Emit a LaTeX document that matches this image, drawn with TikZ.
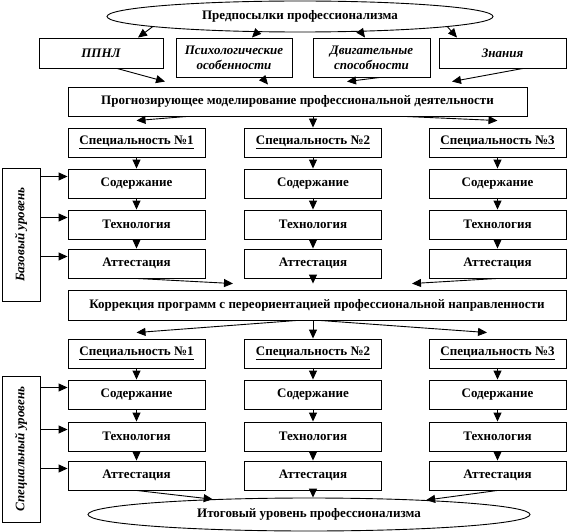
\documentclass[tikz,border=0pt]{standalone}
\usepackage{fontspec}
\setmainfont{Liberation Serif}
\usetikzlibrary{arrows.meta,shapes.geometric}
\begin{document}
\begin{tikzpicture}[x=1pt,y=-1pt,
  txt/.style={font=\bfseries\fontsize{13}{15}\selectfont},
  box/.style={draw,line width=0.9pt,rectangle,inner sep=0pt,align=center,txt},
  ibox/.style={box,font=\bfseries\itshape\fontsize{13}{15}\selectfont},
  col/.style={box,minimum width=137pt,minimum height=29pt},
  oval/.style={draw,line width=0.9pt,ellipse,inner sep=0pt,txt},
  side/.style={draw,line width=0.9pt,rectangle,inner sep=0pt,minimum width=38pt},
  sidetxt/.style={rotate=90,font=\bfseries\itshape\fontsize{13}{15}\selectfont},
  arr/.style={line width=0.9pt,-{Triangle[length=9pt,width=8pt]}}]
\useasboundingbox (0,0) rectangle (570,532);
\fill[white] (0,0) rectangle (570,532);

% top
\node[oval,minimum width=386pt,minimum height=31pt] (E0) at (300,16.5) {Предпосылки профессионализма};
\node[ibox,minimum width=124pt,minimum height=30pt] (b1) at (101,53) {ППНЛ};
\node[ibox,minimum width=116pt,minimum height=39pt] (b2) at (234,57.5) {Психологические\\особенности};
\node[ibox,minimum width=117pt,minimum height=39pt] (b3) at (371.5,57.5) {Двигательные\\способности};
\node[ibox,minimum width=127pt,minimum height=30pt] (b4) at (502.5,53) {Знания};
\node[box,minimum width=459pt,minimum height=29pt] (M) at (297.5,101.5) {Прогнозирующее моделирование профессиональной деятельности};

\draw[arr] (E0.184) -- ([xshift=37pt]b1.north);
\draw[arr] (E0.200) -- ([xshift=18pt]b2.north);
\draw[arr] (E0.346) -- ([xshift=-6.5pt]b3.north);
\draw[arr] (E0.356) -- ([xshift=-45.5pt]b4.north);

\draw[arr] ([xshift=16pt]b1.south) -- ([xshift=-132.5pt,yshift=5pt]M.north);
\draw[arr] ([xshift=28pt]b2.south) -- ([xshift=-29.5pt,yshift=2pt]M.north);
\draw[arr] ([xshift=8.5pt]b3.south) -- ([xshift=49.5pt,yshift=5pt]M.north);
\draw[arr] ([xshift=20.5pt]b4.south) -- ([xshift=154.5pt,yshift=5pt]M.north);

% upper columns
\foreach \c/\x in {1/136.5,2/313,3/497.5}{
  \node[col] (s\c) at (\x,142.5) {\underline{Специальность №\c}};
  \node[col] (c\c) at (\x,183.5) {Содержание};
  \node[col] (t\c) at (\x,224.5) {Технология};
  \node[col] (a\c) at (\x,263.5) {Аттестация};
  \draw[arr] (s\c.south) -- (c\c.north);
  \draw[arr] (c\c.south) -- (t\c.north);
  \draw[arr] (t\c.south) -- (a\c.north);
}
\draw[arr] ([xshift=-110.5pt]M.south) -- ([yshift=7pt]s1.north);
\draw[arr] (s2.north |- M.south) -- (s2.north);
\draw[arr] ([xshift=107.5pt]M.south) -- ([yshift=7pt]s3.north);

\node[side,minimum height=133pt] (L1) at (21,234.5) {};
\node[sidetxt] at (L1.center) {Базовый уровень};
\foreach \b in {c1,t1,a1}{
  \coordinate (p\b) at ([yshift=7pt]\b.west);
  \draw[arr] (p\b -| L1.east) -- (p\b);
}

% correction
\node[box,minimum width=498pt,minimum height=30pt] (K) at (317,305) {Коррекция программ с переориентацией профессиональной направленности};
\draw[arr] (a1.south) -- ([xshift=-84pt,yshift=6pt]K.north);
\draw[arr] (a2.south) -- ([yshift=6pt]a2.south |- K.north);
\draw[arr] (a3.south) -- ([xshift=95pt,yshift=6pt]K.north);

% lower columns
\foreach \c/\x in {1/136.5,2/313,3/497.5}{
  \node[col] (S\c) at (\x,353.5) {\underline{Специальность №\c}};
  \node[col] (C\c) at (\x,394.5) {Содержание};
  \node[col] (T\c) at (\x,436.5) {Технология};
  \node[col] (A\c) at (\x,475.5) {Аттестация};
  \draw[arr] (S\c.south) -- (C\c.north);
  \draw[arr] (C\c.south) -- (T\c.north);
  \draw[arr] (T\c.south) -- (A\c.north);
}
\draw[arr] ([xshift=-20pt]K.south) -- ([yshift=6pt]S1.north);
\draw[arr] (S2.north |- K.south) -- (S2.north);
\draw[arr] ([xshift=3pt]K.south) -- ([xshift=-10.5pt,yshift=6pt]S3.north);

\node[side,minimum height=146pt] (L2) at (21,449) {};
\node[sidetxt] at (L2.center) {Специальный уровень};
\foreach \b in {C1,T1,A1}{
  \coordinate (q\b) at ([yshift=7pt]\b.west);
  \draw[arr] (q\b -| L2.east) -- (q\b);
}

% bottom
\node[oval,minimum width=442pt,minimum height=33pt] (E1) at (309,514.5) {Итоговый уровень профессионализма};
\draw[arr] (A1.south) -- (E1.171);
\draw[arr] (A2.south) -- (A2.south |- E1.north);
\draw[arr] (A3.south) -- (E1.7);
\end{tikzpicture}
\end{document}
